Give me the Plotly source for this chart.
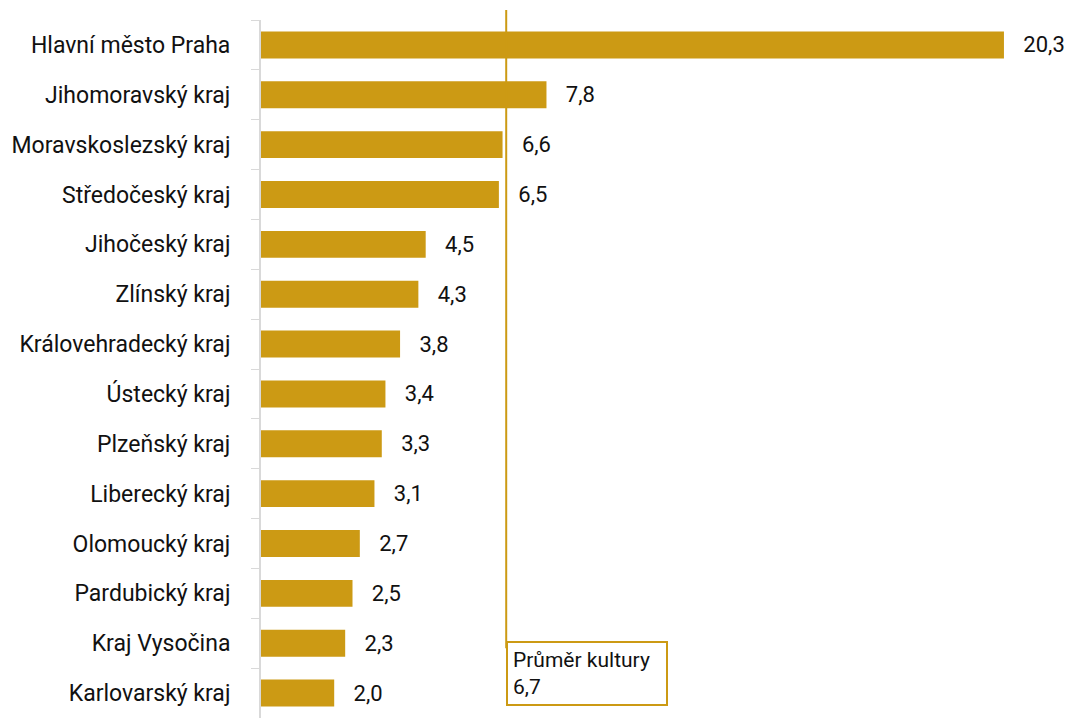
import plotly.graph_objects as go

regions = ["Hlavní město Praha", "Jihomoravský kraj", "Moravskoslezský kraj", "Středočeský kraj",
           "Jihočeský kraj", "Zlínský kraj", "Královehradecký kraj", "Ústecký kraj", "Plzeňský kraj",
           "Liberecký kraj", "Olomoucký kraj", "Pardubický kraj", "Kraj Vysočina", "Karlovarský kraj"]
values = [20.3, 7.8, 6.6, 6.5, 4.5, 4.3, 3.8, 3.4, 3.3, 3.1, 2.7, 2.5, 2.3, 2.0]
average = 6.7
average_label = "Průměr kultury"

gold = "#CC9A14"

fig = go.Figure(go.Bar(
    x=values, y=regions, orientation="h",
    marker=dict(color=gold, line=dict(width=0)),
    width=0.54,
    text=["   " + f"{v:.1f}".replace(".", ",") for v in values],
    textposition="outside", cliponaxis=False,
    textfont=dict(size=22, color="#111111", family="Roboto"),
))

fig.add_shape(type="line", xref="x", yref="paper", x0=average, x1=average, y0=0.1, y1=1.0143,
              line=dict(color=gold, width=2))
fig.add_annotation(x=average, xref="x", y=0.017, yref="paper", xanchor="left", yanchor="bottom",
                   text=f"{average_label}<br>{str(average).replace('.', ',')}", showarrow=False, align="left",
                   font=dict(size=21, color="#111111", family="Roboto"),
                   bordercolor=gold, borderwidth=2, borderpad=5, bgcolor="white", width=148)

fig.update_layout(
    width=1068, height=718,
    margin=dict(l=261, r=0, t=20, b=0, autoexpand=False),
    plot_bgcolor="white", paper_bgcolor="white",
    showlegend=False, bargap=0.46,
    font=dict(family="Roboto", size=20, color="#111111"),
)
fig.update_xaxes(range=[0, 22.05], visible=False, automargin=False)
fig.update_yaxes(autorange="reversed", showline=True, linecolor="#d9d9d9", linewidth=2,
                 ticks="outside", tickson="boundaries", ticklen=8, tickcolor="#d9d9d9",
                 ticklabelstandoff=24, showgrid=False, automargin=False, tickfont=dict(size=23))

# drop the default page margin so the figure fills the window exactly
fig.write_html("out.html", config={"displayModeBar": False},
               post_script="document.body.style.margin='0';document.body.style.overflow='hidden';")
